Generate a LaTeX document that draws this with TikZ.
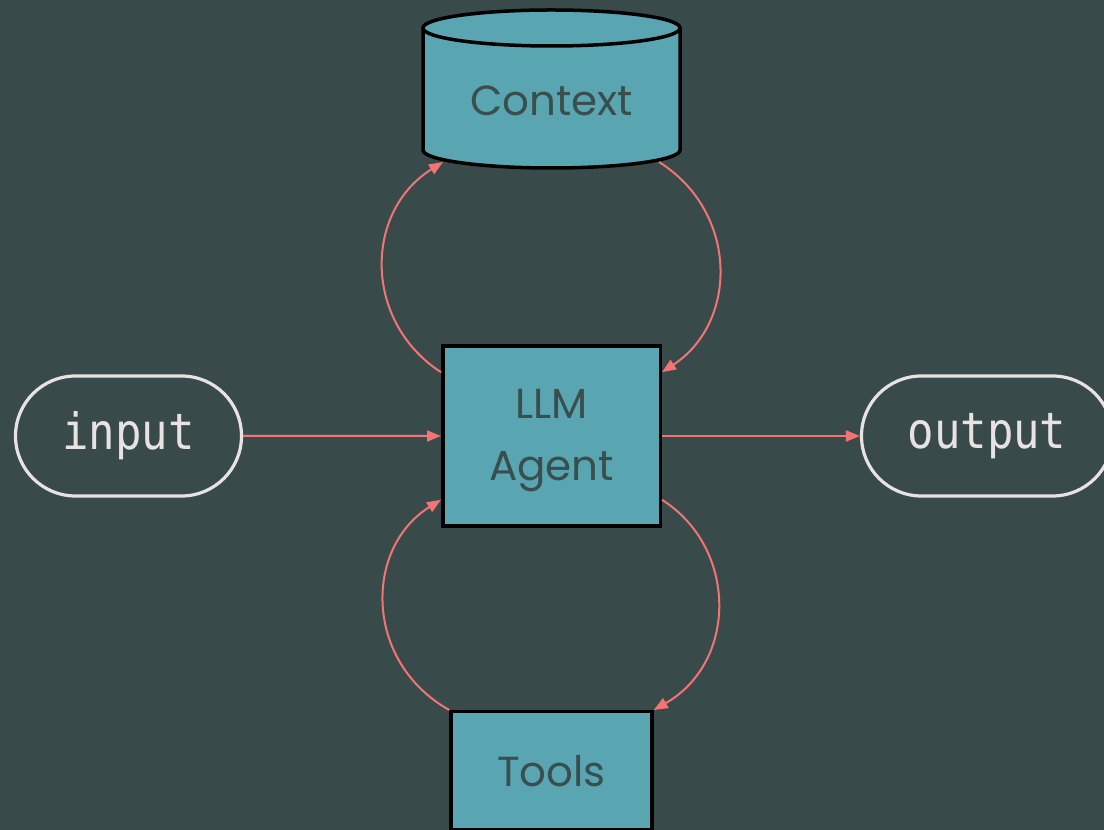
\documentclass[tikz,border=0pt]{standalone}
\usepackage{fontspec}
\setmainfont{Poppins}
\newfontfamily\codefont[FakeStretch=0.88]{DejaVu Sans Mono}
\usetikzlibrary{arrows.meta,shapes.misc}
\definecolor{bgcol}{HTML}{384B4A}
\definecolor{boxfill}{HTML}{59A6B2}
\definecolor{boxtext}{HTML}{3A4E4D}
\definecolor{edgecol}{HTML}{F27474}
\definecolor{termcol}{HTML}{E8E2E3}
\tikzset{
  block/.style={draw=black, line width=3.5pt, fill=boxfill, text=boxtext,
    font=\fontsize{42}{62}\selectfont, align=center, inner sep=0pt},
  blocktext/.style={text=boxtext, font=\fontsize{42}{62}\selectfont,
    align=center, inner sep=0pt},
  terminal/.style={rounded rectangle, draw=termcol, line width=3.2pt, text=termcol,
    font=\codefont\fontsize{50}{60}\selectfont, inner sep=0pt,
    minimum height=120pt},
  flow/.style={draw=edgecol, line width=2pt,
    -{Triangle[length=14pt,width=11pt]}},
}
\begin{document}
\begin{tikzpicture}[x=1pt,y=1pt]
\fill[bgcol] (0,0) rectangle (1104,830);
\useasboundingbox (0,0) rectangle (1104,830);

% context store (cylinder drawn by hand around an invisible frame)
\node[minimum width=257pt, minimum height=158pt, inner sep=0pt] (ctx) at (551.5,741) {};
\fill[boxfill] (423,802) -- (423,680)
  arc[start angle=180, end angle=360, x radius=128.5pt, y radius=18pt]
  -- (680,802)
  arc[start angle=0, end angle=180, x radius=128.5pt, y radius=18pt] -- cycle;
\draw[black, line width=3.5pt] (423,802) -- (423,680)
  arc[start angle=180, end angle=360, x radius=128.5pt, y radius=18pt]
  -- (680,802);
\draw[black, line width=3.5pt] (551.5,802) ellipse [x radius=128.5pt, y radius=18pt];
\node[blocktext] (ctxlabel) at (551.5,729) {Context};
\coordinate (ctxL) at (443,668);
\coordinate (ctxR) at (659,668);

% agent and tools
\node[block, minimum width=217.5pt, minimum height=180pt] (llm) at (551.5,394) {};
\node[blocktext] (llmlabel) at (551.5,389) {LLM\\Agent};
\node[block, minimum width=201pt, minimum height=118.5pt] (tools) at (551.5,59) {Tools};

% terminals
\node[terminal, minimum width=226pt] (in) at (128.5,394) {input};
\node[terminal, minimum width=251pt] (out) at (987,394) {output};

% connectors
\draw[flow] (in) -- (llm);
\draw[flow] (llm) -- (out);
\draw[flow] (llm.150) .. controls (363.5,508) and (363.5,618) .. (ctxL);
\draw[flow] (ctxR) .. controls (738.5,618) and (738.5,508) .. (llm.30);
\draw[flow] (tools.north west) .. controls (363.8,168) and (363.8,282) .. (llm.210);
\draw[flow] (llm.330) .. controls (737.8,282) and (737.8,168) .. (tools.north east);
\end{tikzpicture}
\end{document}
